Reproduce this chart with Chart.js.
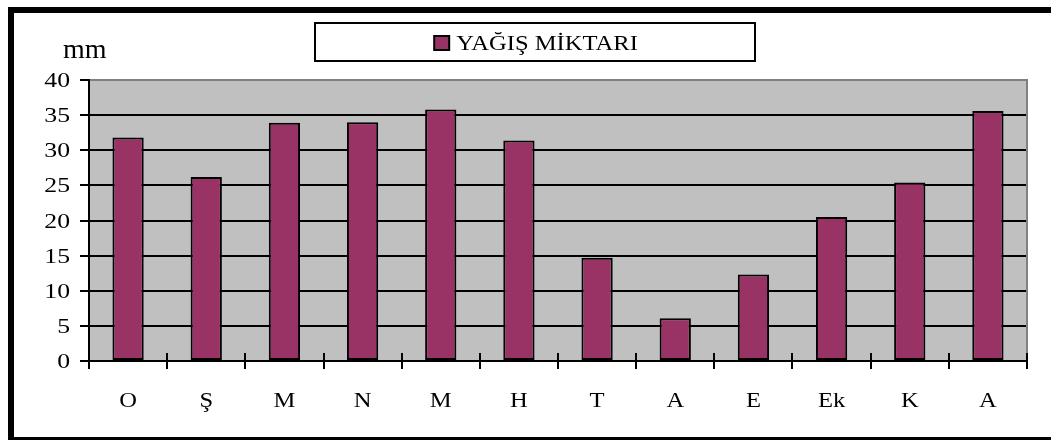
<!DOCTYPE html>
<html>
<head>
<meta charset="utf-8">
<script src="https://cdn.jsdelivr.net/npm/chart.js@4.4.0/dist/chart.umd.min.js"></script>
<style>
  html, body { margin: 0; padding: 0; background: #fff; overflow: hidden; }
  #wrap { position: relative; width: 1051px; height: 440px; overflow: hidden; }
  #frame { position: absolute; left: 8px; top: 7px; width: 1100px; height: 424px;
           border: 6px solid #000; }
  #rainChart { position: absolute; left: 0; top: 0; }
</style>
</head>
<body>
<div id="wrap">
  <div id="frame"></div>
  <canvas id="rainChart" width="1051" height="440"></canvas>
</div>
<script>
// months (Ekim ... Eylül, water year)
var months = ['O', 'Ş', 'M', 'N', 'M', 'H', 'T', 'A', 'E', 'Ek', 'K', 'A'];
// monthly rainfall, mm
var rainfall = [31.8, 26.2, 33.9, 34.0, 35.8, 31.4, 14.7, 6.1, 12.3, 20.5, 25.4, 35.6];
var seriesName = 'YAĞIŞ MİKTARI';
var unitLabel = 'mm';

var serif = '"Liberation Serif", "Times New Roman", serif';
// the original picture has its text a bit wide, so stretch it sideways
var stretch = 1.17;

function wideText(ctx, text, x, y, align) {
  ctx.save();
  ctx.textAlign = align;
  ctx.textBaseline = 'alphabetic';
  ctx.scale(stretch, 1);
  ctx.fillText(text, x / stretch, y);
  ctx.restore();
}

// grey plot area + grey right edge + category ticks crossing the x axis
var plotArea = {
  id: 'plotArea',
  beforeDraw: function(chart) {
    var a = chart.chartArea;
    var ctx = chart.ctx;
    ctx.save();
    ctx.fillStyle = '#c0c0c0';
    ctx.fillRect(a.left, a.top, a.right - a.left, a.bottom - a.top);
    ctx.restore();
  },
  beforeDatasetsDraw: function(chart) {
    var a = chart.chartArea;
    var ctx = chart.ctx;
    ctx.save();
    ctx.strokeStyle = '#808080';
    ctx.lineWidth = 2;
    ctx.beginPath();
    ctx.moveTo(a.right, a.top - 1);
    ctx.lineTo(a.right, a.bottom);
    ctx.stroke();
    ctx.restore();
  },
  afterDraw: function(chart) {
    var x = chart.scales.x;
    var y = chart.scales.y;
    var a = chart.chartArea;
    var ctx = chart.ctx;
    var step = x.getPixelForValue(1) - x.getPixelForValue(0);
    ctx.save();
    ctx.strokeStyle = '#000';
    ctx.lineWidth = 2;
    ctx.beginPath();
    for (var i = 0; i <= months.length; i += 1) {
      var px = Math.round(x.getPixelForValue(i) - step / 2);
      ctx.moveTo(px, a.bottom - 8);
      ctx.lineTo(px, a.bottom + 8);
    }
    ctx.stroke();

    ctx.fillStyle = '#000';
    // x labels
    ctx.font = '21px ' + serif;
    for (var j = 0; j < x.ticks.length; j += 1) {
      wideText(ctx, x.getLabelForValue(x.ticks[j].value), x.getPixelForValue(x.ticks[j].value), a.bottom + 46, 'center');
    }
    // y labels
    ctx.font = '22px ' + serif;
    for (var k = 0; k < y.ticks.length; k += 1) {
      wideText(ctx, String(y.ticks[k].value), a.left - 19, y.getPixelForValue(y.ticks[k].value) + 7, 'right');
    }

    // unit label above the y axis
    ctx.font = '28px ' + serif;
    ctx.textAlign = 'left';
    ctx.textBaseline = 'alphabetic';
    ctx.fillText(unitLabel, 63, 58);
    ctx.restore();
  }
};

// boxed legend at the top
var boxLegend = {
  id: 'boxLegend',
  afterDraw: function(chart) {
    var ds = chart.data.datasets[0];
    var ctx = chart.ctx;
    ctx.save();
    ctx.strokeStyle = '#000';
    ctx.lineWidth = 2;
    ctx.fillStyle = '#fff';
    ctx.fillRect(315, 23, 440, 38);
    ctx.strokeRect(315, 23, 440, 38);

    ctx.font = '21px ' + serif;
    var tw = ctx.measureText(ds.label).width * stretch;
    var sw = 15;
    var gap = 7;
    var left = 536 - (sw + gap + tw) / 2;
    ctx.fillStyle = ds.backgroundColor;
    ctx.fillRect(left, 36, sw, 14);
    ctx.strokeRect(left, 36, sw, 14);
    ctx.fillStyle = '#000';
    wideText(ctx, ds.label, left + sw + gap, 50, 'left');
    ctx.restore();
  }
};

var ctx = document.getElementById('rainChart').getContext('2d');
var chart = new Chart(ctx, {
  type: 'bar',
  data: {
    labels: months,
    datasets: [{
      label: seriesName,
      data: rainfall,
      backgroundColor: '#993366',
      borderColor: '#000',
      borderWidth: 2,
      borderSkipped: false,
      barPercentage: 0.4,
      categoryPercentage: 1.0
    }]
  },
  options: {
    responsive: false,
    animation: false,
    layout: {
      padding: { left: 0, top: 80, right: 24, bottom: 0 }
    },
    plugins: {
      legend: { display: false },
      tooltip: { enabled: false }
    },
    scales: {
      x: {
        grid: { display: false },
        border: { display: true, color: '#000', width: 2 },
        ticks: { display: false },
        afterFit: function(scale) { scale.height = 79; }
      },
      y: {
        min: 0,
        max: 40,
        ticks: { stepSize: 5, display: false },
        grid: {
          color: function(c) { return c.tick && c.tick.value === 40 ? '#808080' : '#000'; },
          lineWidth: 2,
          tickColor: '#000',
          tickLength: 9
        },
        border: { display: true, color: '#000', width: 2 },
        afterFit: function(scale) { scale.width = 89; }
      }
    }
  },
  plugins: [plotArea, boxLegend]
});
</script>
</body>
</html>
